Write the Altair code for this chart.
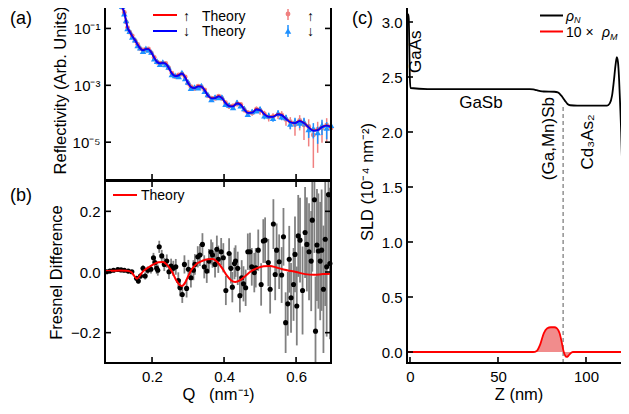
import altair as alt
import numpy as np
import pandas as pd

FONT = "Liberation Sans"
RED_L, BLUE_L = "#ff0000", "#0000ff"
RED_D, BLUE_D = "#f08080", "#1e90ff"

# ---------------- panel (a): reflectivity ----------------
QA = [0.069, 0.085, 0.100, 0.110, 0.117, 0.123, 0.128, 0.132, 0.138, 0.145,
      0.153, 0.160, 0.167, 0.175, 0.183, 0.190, 0.198, 0.206, 0.214, 0.222,
      0.230, 0.238, 0.246, 0.255, 0.264, 0.274, 0.283, 0.292, 0.300, 0.308,
      0.318, 0.328, 0.337, 0.346, 0.355, 0.365, 0.375, 0.385, 0.394, 0.404,
      0.414, 0.425, 0.436, 0.446, 0.456, 0.466, 0.478, 0.490, 0.500, 0.512,
      0.524, 0.536, 0.550, 0.560, 0.572, 0.584, 0.597, 0.610, 0.622, 0.635,
      0.648, 0.660, 0.672, 0.685, 0.697]
TH_DN = [-0.08, -0.09, -0.11, -0.15, -0.25, -0.45, -0.75, -0.98, -1.12, -1.27,
         -1.42, -1.57, -1.70, -1.77, -1.73, -1.73, -1.85, -2.03, -2.18, -2.23,
         -2.21, -2.24, -2.38, -2.58, -2.68, -2.65, -2.59, -2.72, -2.92, -3.06,
         -3.10, -3.04, -3.05, -3.17, -3.36, -3.46, -3.45, -3.39, -3.45, -3.62,
         -3.73, -3.74, -3.64, -3.68, -3.85, -3.97, -3.96, -3.85, -3.87, -4.02,
         -4.11, -4.11, -4.02, -4.05, -4.18, -4.30, -4.33, -4.26, -4.33, -4.48,
         -4.60, -4.58, -4.47, -4.42, -4.47]
TH_UP = [-0.08, -0.09, -0.11, -0.15, -0.25, -0.44, -0.74, -0.97, -1.11, -1.26,
         -1.41, -1.56, -1.69, -1.76, -1.72, -1.72, -1.84, -2.02, -2.17, -2.22,
         -2.20, -2.23, -2.37, -2.57, -2.67, -2.64, -2.58, -2.71, -2.91, -3.05,
         -3.09, -3.03, -3.04, -3.16, -3.35, -3.45, -3.44, -3.38, -3.44, -3.61,
         -3.72, -3.73, -3.63, -3.67, -3.84, -3.96, -3.95, -3.84, -3.86, -4.01,
         -4.10, -4.10, -4.01, -4.04, -4.17, -4.29, -4.32, -4.25, -4.32, -4.47,
         -4.59, -4.57, -4.46, -4.41, -4.46]
DATA_DN = [-0.07, -0.10, -0.10, -0.16, -0.22, -0.48, -0.72, -1.00, -1.10, -1.30,
           -1.40, -1.60, -1.68, -1.80, -1.70, -1.76, -1.83, -2.06, -2.15, -2.26,
           -2.18, -2.27, -2.35, -2.62, -2.65, -2.69, -2.55, -2.76, -2.88, -3.10,
           -3.06, -3.08, -3.01, -3.21, -3.32, -3.50, -3.41, -3.43, -3.41, -3.66,
           -3.69, -3.78, -3.60, -3.72, -3.81, -4.02, -3.92, -3.89, -3.83, -4.07,
           -4.06, -4.16, -3.97, -4.10, -4.13, -4.36, -4.27, -4.32, -4.27, -4.55,
           -4.52, -4.66, -4.40, -4.50, -4.40]
DATA_UP = [-0.08, -0.09, -0.12, -0.15, -0.26, -0.44, -0.77, -0.97, -1.13, -1.26,
           -1.43, -1.56, -1.71, -1.76, -1.74, -1.72, -1.86, -2.02, -2.19, -2.22,
           -2.22, -2.23, -2.39, -2.57, -2.69, -2.64, -2.60, -2.71, -2.93, -3.05,
           -3.11, -3.03, -3.06, -3.16, -3.37, -3.45, -3.46, -3.38, -3.46, -3.61,
           -3.74, -3.73, -3.65, -3.67, -3.86, -3.96, -3.97, -3.84, -3.88, -4.01,
           -4.12, -4.10, -4.03, -4.04, -4.20, -4.28, -4.38, -4.24, -4.40, -4.45,
           -4.75, -4.55, -4.50, -4.40, -4.50]
ERR_DN = [0.03, 0.03, 0.03, 0.03, 0.03, 0.03, 0.03, 0.03, 0.05, 0.05,
          0.05, 0.05, 0.05, 0.05, 0.05, 0.05, 0.05, 0.08, 0.08, 0.08,
          0.08, 0.08, 0.08, 0.08, 0.08, 0.08, 0.08, 0.08, 0.12, 0.12,
          0.12, 0.12, 0.12, 0.12, 0.12, 0.12, 0.12, 0.12, 0.12, 0.18,
          0.18, 0.18, 0.18, 0.18, 0.18, 0.18, 0.18, 0.18, 0.18, 0.25,
          0.25, 0.25, 0.25, 0.25, 0.25, 0.35, 0.35, 0.35, 0.35, 0.50,
          0.55, 0.60, 0.55, 0.60, 0.60]
ERR_UP = [0.03, 0.03, 0.03, 0.03, 0.03, 0.03, 0.03, 0.03, 0.05, 0.05,
          0.05, 0.05, 0.05, 0.05, 0.05, 0.05, 0.05, 0.08, 0.08, 0.08,
          0.08, 0.08, 0.08, 0.08, 0.08, 0.08, 0.08, 0.08, 0.12, 0.12,
          0.12, 0.12, 0.12, 0.12, 0.12, 0.12, 0.12, 0.12, 0.12, 0.20,
          0.20, 0.20, 0.20, 0.20, 0.20, 0.20, 0.20, 0.25, 0.30, 0.30,
          0.30, 0.30, 0.30, 0.35, 0.40, 0.45, 0.60, 0.55, 0.70, 0.80,
          0.93, 0.85, 0.70, 0.75, 0.80]
A_XTICKS = [0.2, 0.4, 0.6]
A_YTICKS = [1e-1, 1e-3, 1e-5]

# ---------------- panel (b): Fresnel difference ----------------
QB = [0.074, 0.083, 0.093, 0.105, 0.114, 0.123, 0.134, 0.144, 0.157, 0.162,
      0.168, 0.175, 0.181, 0.188, 0.197, 0.204, 0.208, 0.213, 0.216, 0.220,
      0.227, 0.234, 0.241, 0.247, 0.253, 0.259, 0.266, 0.273, 0.278, 0.284,
      0.290, 0.296, 0.301, 0.308, 0.315, 0.319, 0.327, 0.333, 0.340, 0.345,
      0.352, 0.358, 0.364, 0.368, 0.375,
      0.380, 0.384, 0.392, 0.398, 0.405, 0.414, 0.419, 0.423, 0.429, 0.432,
      0.438, 0.444, 0.449, 0.454, 0.460, 0.466, 0.472, 0.477, 0.484, 0.488,
      0.495, 0.503, 0.509, 0.514, 0.523, 0.528, 0.537, 0.542, 0.546, 0.553,
      0.560, 0.565, 0.571, 0.577, 0.581, 0.586, 0.593, 0.597, 0.602, 0.606,
      0.611, 0.618, 0.625, 0.630, 0.636, 0.642, 0.645, 0.651, 0.654, 0.658,
      0.662, 0.667, 0.671, 0.676, 0.681, 0.685, 0.690, 0.694]
FD = [0.001, 0.003, 0.006, 0.008, 0.007, 0.006, 0.003, 0.001, -0.021, -0.030,
      -0.013, 0.012, -0.013, 0.006, 0.009, 0.047, 0.031, 0.012, 0.006, 0.083,
      0.053, 0.025, 0.036, 0.001, 0.020, 0.012, 0.017, -0.028, -0.052, -0.074,
      0.025, -0.054, 0.009, -0.019, 0.006, 0.025, 0.050, 0.056, 0.091, 0.017,
      0.003, 0.036, 0.066, 0.056, 0.025,
      0.075, 0.042, 0.067, 0.047, -0.061, 0.061, 0.012, -0.050, 0.028, 0.036,
      0.012, -0.078, -0.019, -0.039, -0.052, 0.067, 0.067, 0.017, -0.002, 0.014,
      0.072, -0.041, 0.102, 0.105, 0.031, -0.057, 0.158, -0.008, 0.072, 0.034,
      -0.010, 0.116, -0.167, -0.105, 0.042, -0.085, -0.041, 0.058, -0.112, 0.119,
      0.105, -0.061, 0.130, 0.091, 0.067, 0.036, 0.171, 0.238, -0.195, 0.089,
      0.069, 0.036, 0.072, -0.057, 0.108, 0.017, 0.255, 0.028]
FD_ERR = [0.004, 0.004, 0.004, 0.004, 0.004, 0.005, 0.005, 0.006, 0.008, 0.008,
          0.010, 0.010, 0.012, 0.012, 0.014, 0.016, 0.016, 0.018, 0.018, 0.020,
          0.020, 0.022, 0.022, 0.024, 0.024, 0.025, 0.026, 0.027, 0.028, 0.028,
          0.030, 0.030, 0.031, 0.032, 0.033, 0.034, 0.035, 0.036, 0.037, 0.038,
          0.039, 0.040, 0.041, 0.042, 0.043,
          0.045, 0.045, 0.045, 0.048, 0.048, 0.050, 0.050, 0.050, 0.052, 0.052,
          0.055, 0.055, 0.058, 0.058, 0.060, 0.060, 0.062, 0.062, 0.065, 0.065,
          0.068, 0.070, 0.072, 0.075, 0.078, 0.080, 0.082, 0.085, 0.088, 0.090,
          0.092, 0.095, 0.100, 0.105, 0.110, 0.115, 0.120, 0.125, 0.130, 0.135,
          0.140, 0.145, 0.150, 0.155, 0.160, 0.165, 0.170, 0.175, 0.180, 0.185,
          0.190, 0.195, 0.200, 0.210, 0.220, 0.230, 0.240, 0.250]
QB_TH = [0.0694, 0.090, 0.110, 0.130, 0.142, 0.150, 0.158, 0.166, 0.175, 0.190,
         0.205, 0.218, 0.231, 0.243, 0.256, 0.266, 0.276, 0.283, 0.292, 0.300,
         0.310, 0.325, 0.340, 0.355, 0.369, 0.382, 0.395, 0.408, 0.420, 0.431,
         0.445, 0.460, 0.472, 0.490, 0.510, 0.528, 0.545, 0.560, 0.575, 0.600,
         0.625, 0.650, 0.675, 0.697]
FD_TH = [0.003, 0.004, 0.005, 0.004, 0.000, -0.012, -0.022, -0.012, 0.002, 0.015,
         0.026, 0.032, 0.033, 0.022, 0.000, -0.025, -0.042, -0.046, -0.035, -0.015,
         0.008, 0.028, 0.037, 0.042, 0.043, 0.032, 0.012, -0.012, -0.028, -0.033,
         -0.027, -0.012, 0.000, 0.012, 0.019, 0.020, 0.015, 0.010, 0.006, 0.000,
         -0.007, -0.009, -0.007, -0.006]
B_YTICKS = [-0.2, 0.0, 0.2]

# ---------------- panel (c): SLD profile ----------------
ZN = [-1.7, -1.0, -0.7, -0.4, -0.1, 0.3, 10.0, 30.0, 50.0, 68.0,
      70.0, 72.0, 74.0, 76.0, 82.0, 84.0, 86.0, 88.0, 89.5, 91.0,
      95.0, 105.0, 112.0, 113.5, 114.8, 115.8, 116.8, 117.5, 118.2, 118.8,
      119.4, 120.0, 120.7, 121.5, 122.3, 123.1, 123.9, 125.0]
RHO_N = [3.07, 3.07, 3.03, 2.80, 2.50, 2.40, 2.39, 2.39, 2.39, 2.39,
         2.387, 2.38, 2.372, 2.368, 2.366, 2.36, 2.33, 2.285, 2.255, 2.243,
         2.24, 2.24, 2.24, 2.26, 2.33, 2.46, 2.61, 2.68, 2.63, 2.48,
         2.25, 2.00, 1.60, 1.10, 0.62, 0.25, 0.06, 0.01]
ZM = [-1.7, 60.0, 70.0, 72.0, 74.0, 76.0, 78.0, 80.0, 82.0, 83.5,
      85.0, 86.2, 87.2, 88.2, 89.0, 90.0, 91.2, 92.5, 95.0, 125.0]
RHO_M10 = [0.0, 0.0, 0.0, 0.01, 0.07, 0.17, 0.215, 0.225, 0.225, 0.215,
           0.17, 0.09, 0.01, -0.035, -0.045, -0.035, -0.012, 0.0, 0.0, 0.0]
C_XTICKS = [0, 50, 100]
C_YTICKS = [0.0, 0.5, 1.0, 1.5, 2.0, 2.5, 3.0]
DASH_Z, DASH_LO, DASH_HI = 87.0, -0.1, 2.245
ANN_TXT = ["GaAs", "GaSb", "(Ga,Mn)Sb", "Cd\u2083As\u2082"]
ANN_Z = [3.4, 40.3, 79.0, 101.0]
ANN_S = [2.73, 2.26, 1.94, 1.91]
ANN_VERT = [True, False, True, True]

# ---------------- layout (pixels inside one shared view) ----------------
W_AB, H_A, H_B = 226, 180, 182
B_TOP = 181
C_LEFT, W_C = 302, 223
VIEW_W, VIEW_H = C_LEFT + W_C, B_TOP + H_B
TICK, TICKW = 6, 1.6

AX = dict(ticks=False, domain=False, grid=False, labelFlush=False, labelOverlap=False,
          labelFont=FONT, labelFontSize=15, labelColor="black",
          titleFont=FONT, titleFontSize=16.5, titleFontWeight="normal",
          titleColor="black")

one = pd.DataFrame({"k": [0]})


def txt(s, x, y, size=14, style="normal", align="left"):
    return alt.Chart(one).mark_text(text=s, font=FONT, fontSize=size, fontStyle=style,
                                    align=align, baseline="middle", color="black").encode(
        x=alt.value(x), y=alt.value(y))


def hrule(x1, x2, y, color):
    return alt.Chart(one).mark_rule(color=color, strokeWidth=2).encode(
        x=alt.value(x1), x2=alt.value(x2), y=alt.value(y))


def frame(x0, y0, x1, y1):
    return alt.Chart(one).mark_rect(fillOpacity=0, stroke="black", strokeWidth=2).encode(
        x=alt.value(x0), x2=alt.value(x1), y=alt.value(y0), y2=alt.value(y1))


def frame_ticks(xenc, xfield, xvals, yenc, yfield, yvals, x0, y0, x1, y1):
    dx = pd.DataFrame({xfield: xvals})
    dy = pd.DataFrame({yfield: yvals})
    bx = alt.Chart(dx).mark_rule(color="black", strokeWidth=TICKW)
    by = alt.Chart(dy).mark_rule(color="black", strokeWidth=TICKW)
    return [
        bx.encode(x=xenc(xfield), y=alt.value(y1), y2=alt.value(y1 - TICK)),
        bx.encode(x=xenc(xfield), y=alt.value(y0), y2=alt.value(y0 + TICK)),
        by.encode(y=yenc(yfield), x=alt.value(x0), x2=alt.value(x0 + TICK)),
        by.encode(y=yenc(yfield), x=alt.value(x1 - TICK), x2=alt.value(x1)),
    ]


# ---------------- panel (a) ----------------
qa_scale = alt.Scale(domain=[0.0694, 0.697], range=[0, W_AB], nice=False, zero=False)
ya_scale = alt.Scale(type="log", domain=[10 ** -6.33, 1.0], range=[H_A, 0], nice=False, clamp=True)
ya_axis = alt.Axis(orient="left", values=A_YTICKS, title="Reflectivity (Arb. Units)",
                   labelExpr="datum.value > 0.01 ? '10\u207b\u00b9' : (datum.value > 0.0001 ? '10\u207b\u00b3' : '10\u207b\u2075')",
                   labelPadding=5, titlePadding=4, **AX)


def XA(f):
    return alt.X(f"{f}:Q", scale=qa_scale, axis=None)


def YA(f):
    return alt.Y(f"{f}:Q", scale=ya_scale, axis=ya_axis)


n = len(QA)
R_up = 10 ** np.array(DATA_UP)
R_dn = 10 ** np.array(DATA_DN)
dfA = pd.DataFrame({
    "Q": QA + QA,
    "R": np.concatenate([R_up, R_dn]),
    "lo": np.concatenate([R_up * (1 - np.array(ERR_UP)), R_dn * (1 - np.array(ERR_DN))]),
    "hi": np.concatenate([R_up * (1 + np.array(ERR_UP)), R_dn * (1 + np.array(ERR_DN))]),
    "spin": ["up"] * n + ["dn"] * n,
})
dfA_th = pd.DataFrame({"Q": QA + QA, "R": 10 ** np.array(TH_UP + TH_DN),
                       "th": ["up"] * n + ["dn"] * n})

a_layers = []
for sp, col, shape, size in [("up", RED_D, "circle", 24), ("dn", BLUE_D, "triangle-up", 42)]:
    sub = alt.Chart(dfA).transform_filter(alt.datum.spin == sp)
    a_layers.append(sub.mark_rule(color=col, strokeWidth=1.5).encode(
        x=XA("Q"), y=YA("lo"), y2="hi"))
    a_layers.append(sub.mark_point(filled=True, shape=shape, size=size, color=col,
                                   opacity=1).encode(x=XA("Q"), y=YA("R")))
for th, col in [("up", RED_L), ("dn", BLUE_L)]:
    a_layers.append(alt.Chart(dfA_th).transform_filter(alt.datum.th == th).mark_line(
        color=col, strokeWidth=1.8, interpolate="monotone").encode(x=XA("Q"), y=YA("R")))
a_layers += frame_ticks(XA, "Q", A_XTICKS, YA, "R", A_YTICKS, 0, 0, W_AB, H_A)
panelA = alt.layer(*a_layers)

# ---------------- panel (b) ----------------
qb_scale = alt.Scale(domain=[0.0694, 0.697], range=[0, W_AB], nice=False, zero=False)
qb_axis = alt.Axis(orient="bottom", values=A_XTICKS, format=".1f",
                   title="Q\u00a0\u00a0\u00a0(nm\u207b\u00b9)", labelPadding=6, titlePadding=2, **AX)
yb_scale = alt.Scale(domain=[-0.3, 0.3], range=[VIEW_H, B_TOP], nice=False, zero=False, clamp=True)
yb_axis = alt.Axis(orient="left", values=B_YTICKS, format=".1f", title="Fresnel Difference",
                   labelPadding=5, titlePadding=6, **AX)


def XB(f):
    return alt.X(f"{f}:Q", scale=qb_scale, axis=qb_axis)


def YB(f):
    return alt.Y(f"{f}:Q", scale=yb_scale, axis=yb_axis)


dfB = pd.DataFrame({"Q": QB, "F": FD,
                    "lo": np.array(FD) - np.array(FD_ERR),
                    "hi": np.array(FD) + np.array(FD_ERR)})
dfB_th = pd.DataFrame({"Q": QB_TH, "F": FD_TH})
b_layers = [
    alt.Chart(dfB).mark_rule(color="#808080", strokeWidth=1.8).encode(
        x=XB("Q"), y=YB("lo"), y2="hi"),
    alt.Chart(dfB).mark_point(filled=True, shape="circle", size=26, color="black",
                              opacity=1).encode(x=XB("Q"), y=YB("F")),
    alt.Chart(dfB_th).mark_line(color=RED_L, strokeWidth=2, interpolate="monotone").encode(
        x=XB("Q"), y=YB("F")),
]
b_layers += frame_ticks(XB, "Q", A_XTICKS, YB, "F", B_YTICKS, 0, B_TOP, W_AB, VIEW_H)
panelB = alt.layer(*b_layers)

# ---------------- panel (c) ----------------
z_scale = alt.Scale(domain=[-1.7, 125], range=[C_LEFT, VIEW_W], nice=False, zero=False)
z_axis = alt.Axis(orient="bottom", values=C_XTICKS, format="d", title="Z (nm)",
                  labelPadding=6, titlePadding=2, **AX)
s_scale = alt.Scale(domain=[-0.1, 3.2], range=[VIEW_H, 0], nice=False, zero=False)
s_axis = alt.Axis(orient="left", offset=-C_LEFT, values=C_YTICKS, format=".1f",
                  title="SLD (10\u207b\u2074 nm\u207b\u00b2)", labelPadding=5, titlePadding=6, **AX)


def XC(f):
    return alt.X(f"{f}:Q", scale=z_scale, axis=z_axis)


def YC(f):
    return alt.Y(f"{f}:Q", scale=s_scale, axis=s_axis)


dfN = pd.DataFrame({"Z": ZN, "S": RHO_N})
dfM = pd.DataFrame({"Z": ZM, "S": RHO_M10, "base": [0.0] * len(ZM)})
dfD = pd.DataFrame({"Z": [DASH_Z], "S": [DASH_LO], "hi": [DASH_HI]})
dfAnn = pd.DataFrame({"Z": ANN_Z, "S": ANN_S, "t": ANN_TXT, "v": ANN_VERT})

c_layers = [
    alt.Chart(dfM).mark_area(color=RED_D, opacity=0.9, interpolate="monotone").encode(
        x=XC("Z"), y=YC("S"), y2="base"),
    alt.Chart(dfD).mark_rule(color="#808080", strokeWidth=1.3, strokeDash=[4, 3]).encode(
        x=XC("Z"), y=YC("S"), y2="hi"),
    alt.Chart(dfM).mark_line(color=RED_L, strokeWidth=1.8, interpolate="monotone").encode(
        x=XC("Z"), y=YC("S")),
    alt.Chart(dfN).mark_line(color="black", strokeWidth=1.8, interpolate="monotone").encode(
        x=XC("Z"), y=YC("S")),
    alt.Chart(dfAnn).transform_filter("datum.v").mark_text(
        angle=270, font=FONT, fontSize=17, align="center", baseline="middle", color="black").encode(
        x=XC("Z"), y=YC("S"), text="t:N"),
    alt.Chart(dfAnn).transform_filter("!datum.v").mark_text(
        font=FONT, fontSize=17, align="center", baseline="middle", color="black").encode(
        x=XC("Z"), y=YC("S"), text="t:N"),
]
c_layers += frame_ticks(XC, "Z", C_XTICKS, YC, "S", C_YTICKS, C_LEFT, 0, VIEW_W, VIEW_H)
panelC = alt.layer(*c_layers)

# ---------------- frames, legends, panel letters ----------------
deco = [
    frame(0, 0, W_AB, H_A), frame(0, B_TOP, W_AB, VIEW_H), frame(C_LEFT, 0, VIEW_W, VIEW_H),
    # legend (a)
    hrule(48, 72, 15, RED_L), hrule(48, 72, 31, BLUE_L),
    txt("\u2191", 78, 16.5), txt("Theory", 97, 16.5),
    txt("\u2193", 78, 32), txt("Theory", 97, 32),
    alt.Chart(one).mark_rule(color=RED_D, strokeWidth=1.5).encode(
        x=alt.value(183), y=alt.value(9), y2=alt.value(20)),
    alt.Chart(one).mark_point(filled=True, shape="circle", size=24, color=RED_D, opacity=1).encode(
        x=alt.value(183), y=alt.value(14)),
    alt.Chart(one).mark_rule(color=BLUE_D, strokeWidth=1.5).encode(
        x=alt.value(183), y=alt.value(25), y2=alt.value(37)),
    alt.Chart(one).mark_point(filled=True, shape="triangle-up", size=42, color=BLUE_D, opacity=1).encode(
        x=alt.value(183), y=alt.value(31)),
    txt("\u2191", 202, 16.5), txt("\u2193", 202, 32),
    # legend (b)
    hrule(8, 32, B_TOP + 14, RED_L), txt("Theory", 36, B_TOP + 15),
    # legend (c)
    hrule(C_LEFT + 133, C_LEFT + 156, 15.5, "black"), hrule(C_LEFT + 133, C_LEFT + 156, 31.5, RED_L),
    txt("\u03c1", C_LEFT + 159, 16.5, style="italic"),
    txt("N", C_LEFT + 167, 19.5, size=9, style="italic"),
    txt("10 \u00d7 ", C_LEFT + 159, 33), txt("\u03c1", C_LEFT + 195, 33, style="italic"),
    txt("M", C_LEFT + 203, 37, size=9, style="italic"),
    # panel letters
    txt("(a)", -95, 18.5, size=18), txt("(b)", -95, B_TOP + 15, size=18),
    txt("(c)", C_LEFT - 55, 18.5, size=18),
]

# the page body is 613 px wide: keep the svg within it so it is not rescaled
chart = alt.layer(panelA, panelB, panelC, *deco).resolve_scale(
    x="independent", y="independent"
).properties(
    width=VIEW_W, height=VIEW_H,
    autosize=alt.AutoSizeParams(type="none"),
    padding={"left": 97, "top": -8, "right": -9, "bottom": 50},
).configure_view(stroke=None)

chart.save("out.html", embed_options={"renderer": "svg", "actions": False})
